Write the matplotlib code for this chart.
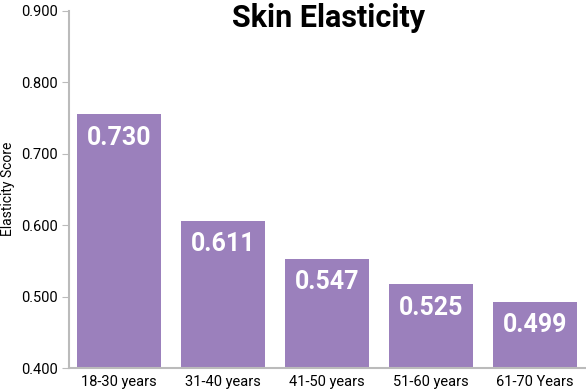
import matplotlib
matplotlib.use("Agg")
import matplotlib.pyplot as plt

plt.rcParams['font.family'] = ['Roboto', 'DejaVu Sans']

groups = ["18-30 years", "31-40 years", "41-50 years", "51-60 years", "61-70 Years"]
bar_heights = [0.755, 0.606, 0.553, 0.517, 0.493]   # as drawn in the picture
value_labels = ["0.730", "0.611", "0.547", "0.525", "0.499"]
yticks = [0.4, 0.5, 0.6, 0.7, 0.8, 0.9]

fig = plt.figure(figsize=(5.86, 3.90), dpi=100)
ax = fig.add_axes([0.1177, 0.0564, 0.8823, 0.9166])

x = range(len(groups))
ax.bar(x, bar_heights, width=0.8, color="#9b80bc", zorder=2)

for i, (h, lab) in enumerate(zip(bar_heights, value_labels)):
    ax.text(i, h - 0.016, lab, ha="center", va="top", color="white",
            fontsize=18, fontweight="bold")

ax.set_ylim(0.4, 0.9)
ax.set_xlim(-0.48, 4.49)
ax.set_yticks(yticks)
ax.set_yticklabels(["%.3f" % t for t in yticks])
ax.set_xticks(list(x))
ax.set_xticklabels(groups)
ax.tick_params(axis="y", length=5, color="#bbbbbb", labelsize=10.5, pad=3)
ax.tick_params(axis="x", length=0, labelsize=10.5, pad=5)

for s in ["top", "right"]:
    ax.spines[s].set_visible(False)
for s in ["left", "bottom"]:
    ax.spines[s].set_color("#bbbbbb")
    ax.spines[s].set_linewidth(1.5)

fig.text(8 / 586, 0.515, "Elasticity Score", rotation=90, ha="center",
         va="center", fontsize=10)
fig.text(0.56, 0.955, "Skin Elasticity", ha="center", va="center",
         fontsize=22, fontweight="bold")

fig.savefig("out.png", dpi=100)
